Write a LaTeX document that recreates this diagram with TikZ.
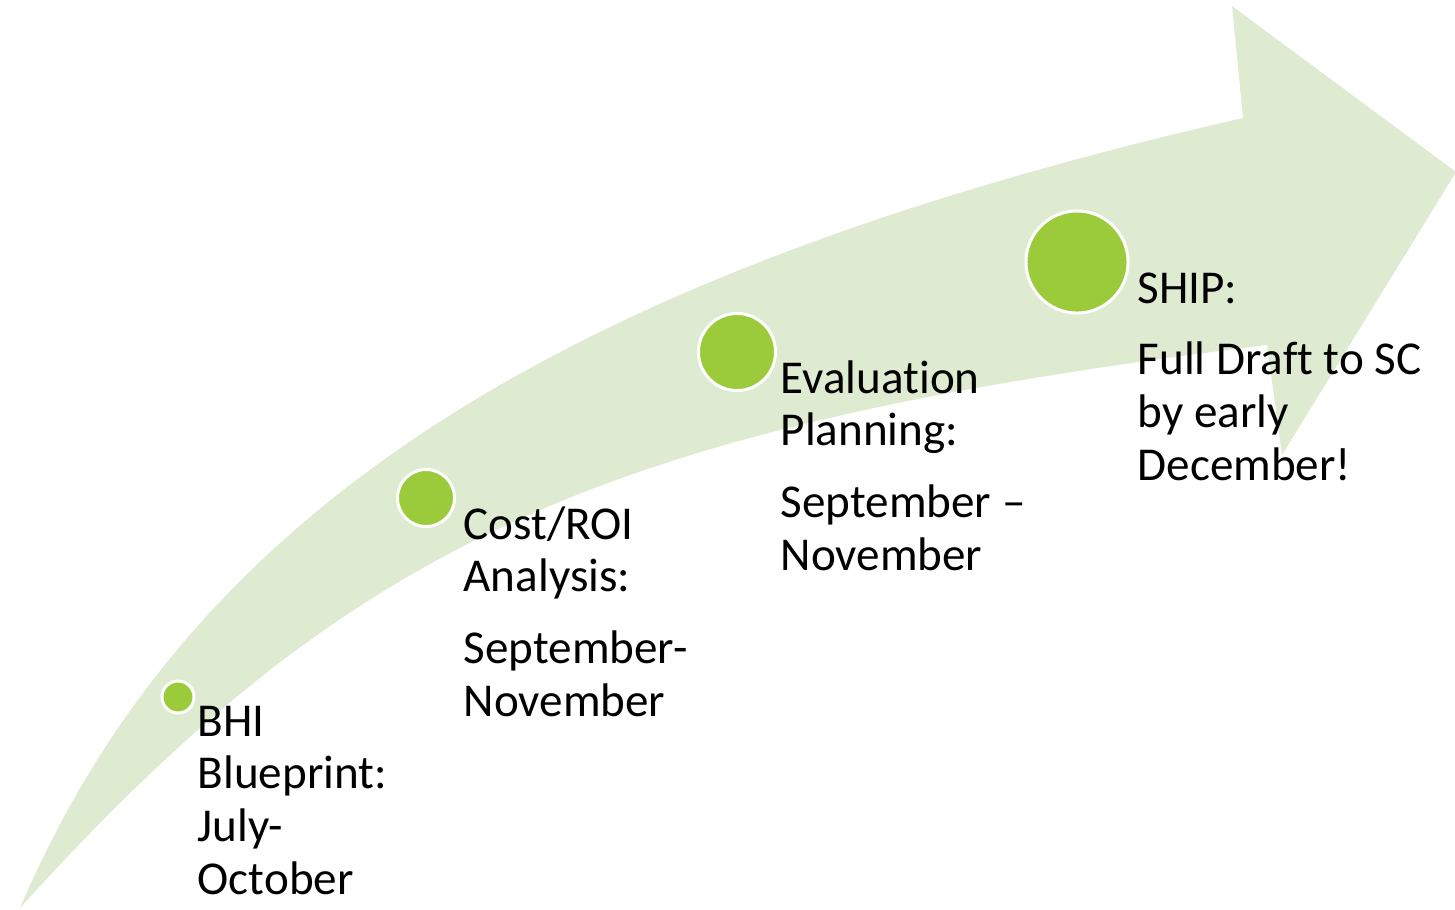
\documentclass[tikz,border=0pt]{standalone}
\usepackage{fontspec}
\setmainfont{Carlito}[Ligatures=NoCommon]
\usepackage{tikz}
\usetikzlibrary{positioning}

\definecolor{BandGreen}{RGB}{222,235,209}
\definecolor{DotGreen}{RGB}{155,203,59}

\tikzset{
  milestone/.style={
    circle, inner sep=0pt,
    fill=DotGreen, draw=white, line width=0.85pt
  },
  % base anchor sits on the last line of a label
  stage/.style={
    anchor=base west, align=left, inner sep=0pt,
    font=\fontsize{13.4pt}{14.94pt}\selectfont, text=black
  }
}

\begin{document}
\begin{tikzpicture}[x=0.01cm, y=-0.01cm]
  \useasboundingbox (0,0) rectangle (1455,909);

  % Rising band with its arrow head
  \fill[BandGreen] (20,908) .. controls (189,512) and (556,275) .. (1243,118)
    -- (1232,6) -- (1456,172) -- (1282,455) -- (1267,345)
    .. controls (604,427) and (354,539) .. (20,908) -- cycle;

  % ── Milestones ──
  \node[milestone, minimum size=0.32cm] (bhi)  at (178,697)  {};
  \node[milestone, minimum size=0.57cm] (cost) at (426,498)  {};
  \node[milestone, minimum size=0.77cm] (eval) at (737,352)  {};
  \node[milestone, minimum size=1.02cm] (ship) at (1077,262) {};

  % ── Labels ──
  \node[stage] (bhitxt)  at (197,894)  {BHI\\Blueprint:\\July-\\October};
  \node[stage] (costtxt) at (463,716)  {Cost/ROI\\Analysis:\\[5.5pt]September-\\November};
  \node[stage] (evaltxt) at (780,570)  {Evaluation\\Planning:\\[5.5pt]September –\\November};
  \node[stage] (shiptxt) at (1137,480) {SHIP:\\[5.5pt]Full Draft to SC\\by early\\December!};
\end{tikzpicture}
\end{document}
